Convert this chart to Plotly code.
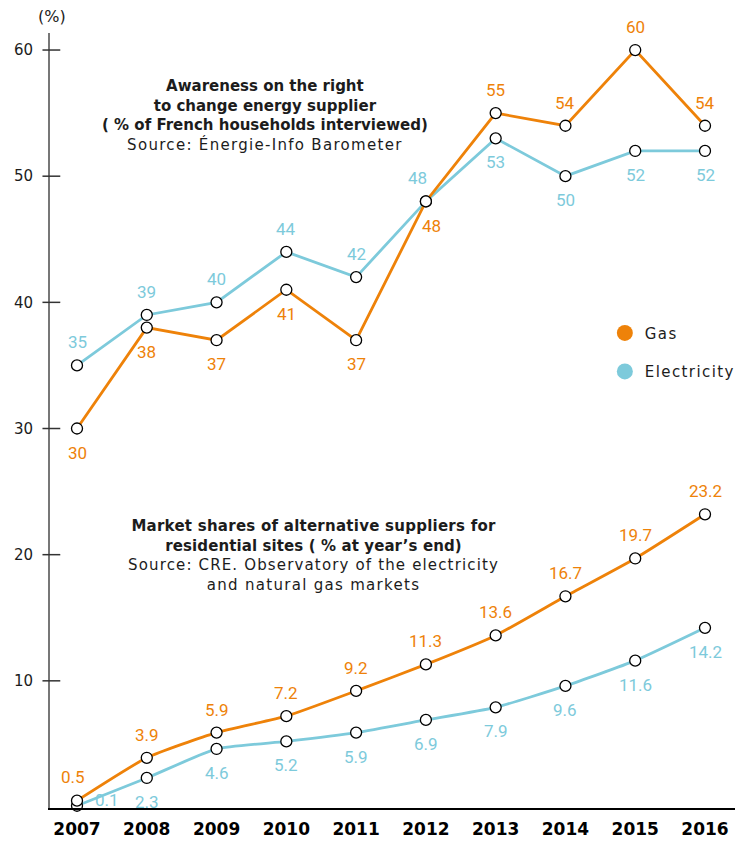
import plotly.graph_objects as go

# --- data -----------------------------------------------------------------
years = ["2007", "2008", "2009", "2010", "2011", "2012", "2013", "2014", "2015", "2016"]

gas_awareness = [30, 38, 37, 41, 37, 48, 55, 54, 60, 54]
elec_awareness = [35, 39, 40, 44, 42, 48, 53, 50, 52, 52]

gas_share = [0.5, 3.9, 5.9, 7.2, 9.2, 11.3, 13.6, 16.7, 19.7, 23.2]
elec_share = [0.1, 2.3, 4.6, 5.2, 5.9, 6.9, 7.9, 9.6, 11.6, 14.2]

y_ticks = [10, 20, 30, 40, 50, 60]

# label side for each point: +1 above, -1 below
gas_awareness_side = [-1, -1, -1, -1, -1, -1, 1, 1, 1, 1]
elec_awareness_side = [1, 1, 1, 1, 1, 1, -1, -1, -1, -1]

# --- style ----------------------------------------------------------------
GAS = "#EE8209"
ELEC = "#7DCADB"
TEXT = "#1c1c1c"
TITLE_FONT = "DejaVu Sans"
VALUE_FONT = "Roboto"

x_idx = list(range(len(years)))

fig = go.Figure()

marker_style = dict(size=11, color="white", line=dict(color="black", width=1.3))


def spaced(s, px):
    return f'<span style="letter-spacing:{px}px">{s}</span>'


def add_series(values, color, shape):
    fig.add_trace(go.Scatter(
        x=x_idx, y=values, mode="lines+markers",
        line=dict(color=color, width=2.8, shape=shape, smoothing=0.5),
        marker=marker_style, showlegend=False, cliponaxis=False,
        hoverinfo="skip",
    ))


add_series(elec_awareness, ELEC, "linear")
add_series(gas_awareness, GAS, "linear")
add_series(elec_share, ELEC, "spline")
add_series(gas_share, GAS, "spline")

# legend entries
for name, color in [("Gas", GAS), ("Electricity", ELEC)]:
    fig.add_trace(go.Scatter(
        x=[None], y=[None], mode="markers", name=spaced(name, 1.4), legendgroup=name,
        marker=dict(size=17, color=color),
    ))


def fmt(v):
    return f"{v:g}" if isinstance(v, int) else f"{v:.1f}"


def label_points(values, sides, color, offsets=None):
    offsets = offsets or {}
    for i, (v, s) in enumerate(zip(values, sides)):
        dx, dy = offsets.get(i, (0, 0))
        fig.add_annotation(
            x=i, y=v, text=fmt(v), showarrow=False,
            xshift=dx, yshift=(23 if s > 0 else -24) + dy,
            font=dict(family=VALUE_FONT, size=17, color=color),
        )


label_points(gas_awareness, gas_awareness_side, GAS, {5: (6, -1)})
label_points(elec_awareness, elec_awareness_side, ELEC, {5: (-8, 0)})
label_points(gas_share, [1] * len(gas_share), GAS, {0: (-4, 1)})
label_points(elec_share, [-1] * len(elec_share), ELEC, {0: (30, 30)})

# panel captions
fig.add_annotation(
    xref="paper", yref="paper", x=0.314, y=0.893, showarrow=False,
    align="center", xanchor="center", yanchor="middle",
    text="<br>".join([
        "<b>Awareness on the right</b>",
        "<b>to change energy supplier</b>",
        "<b>( % of French households interviewed)</b>",
        spaced("Source: Énergie-Info Barometer", 1.3),
    ]),
    font=dict(family=TITLE_FONT, size=15, color=TEXT),
)
fig.add_annotation(
    xref="paper", yref="paper", x=0.384, y=0.326, showarrow=False,
    align="center", xanchor="center", yanchor="middle",
    text="<br>".join([
        "<b>" + spaced("Market shares of alternative suppliers for", 0.25) + "</b>",
        "<b>" + spaced("residential sites ( % at year’s end)", 0.1) + "</b>",
        spaced("Source: CRE. Observatory of the electricity", 1.15),
        spaced("and natural gas markets", 1.3),
    ]),
    font=dict(family=TITLE_FONT, size=15, color=TEXT),
)

# unit label above the y axis
fig.add_annotation(
    xref="paper", yref="paper", x=0, y=1, yshift=28, xshift=2,
    xanchor="center", showarrow=False,
    text="(%)", font=dict(family=TITLE_FONT, size=16, color=TEXT),
)

# tick marks crossing the y axis
for t in y_ticks:
    fig.add_shape(type="line", xref="paper", yref="y",
                  x0=-0.011, x1=0.015, y0=t, y1=t,
                  line=dict(color="#333333", width=1.5))

fig.update_layout(
    width=738, height=841,
    margin=dict(l=50, r=3, t=33, b=33, autoexpand=False),
    paper_bgcolor="white", plot_bgcolor="white",
    showlegend=True,
    legend=dict(
        x=0.81, y=0.634, xanchor="left", yanchor="top",
        font=dict(family=TITLE_FONT, size=15, color=TEXT),
        tracegroupgap=16, itemwidth=30, bgcolor="rgba(0,0,0,0)",
    ),
    xaxis=dict(
        range=[-0.387, 9.43], tickmode="array", tickvals=x_idx, ticktext=years,
        showgrid=False, zeroline=False, showline=True, linecolor="black", linewidth=2,
        ticks="", tickfont=dict(family="DejaVu Sans", size=17, color="black", weight="bold"),
        ticklabelstandoff=5, automargin=False,
    ),
    yaxis=dict(
        range=[-0.08, 61.35], tickmode="array", tickvals=y_ticks,
        showgrid=False, zeroline=False, showline=True, linecolor="#777777", linewidth=2,
        ticks="", tickfont=dict(family=TITLE_FONT, size=15, color=TEXT),
        ticklabelstandoff=12, automargin=False,
    ),
)

fig.write_html("out.html")
